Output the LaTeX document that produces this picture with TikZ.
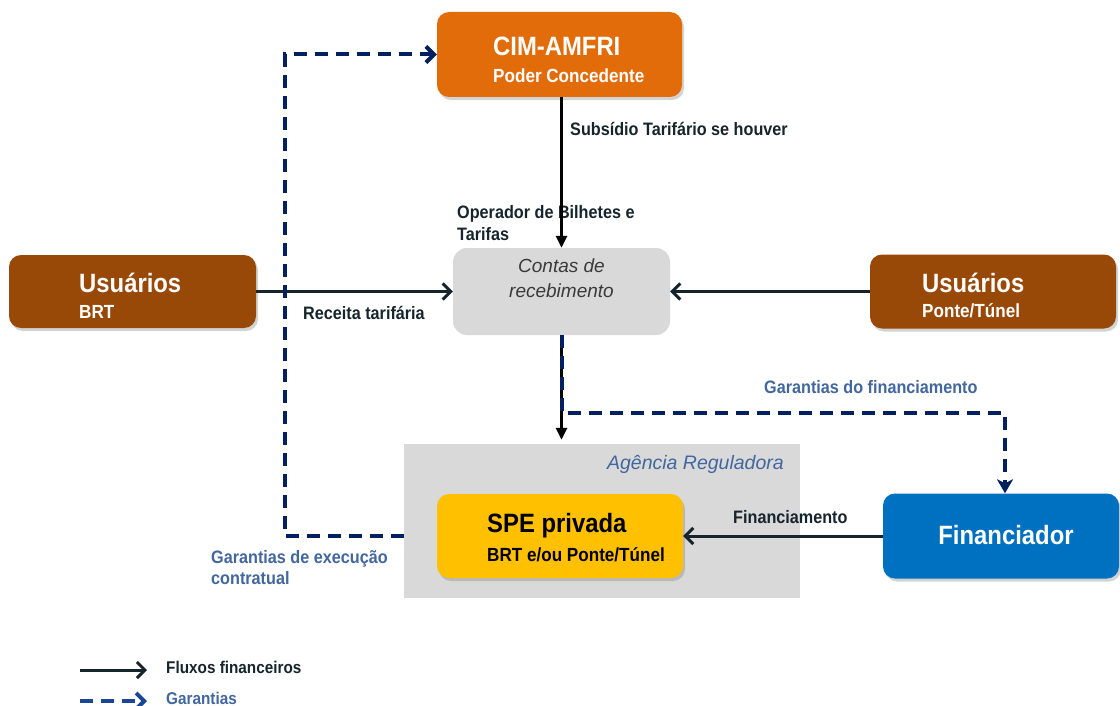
\documentclass[tikz,border=0pt]{standalone}
\usepackage{fontspec}
\setmainfont{Liberation Sans}[FakeStretch=0.9]
\newfontfamily\italica{Liberation Sans}
\usetikzlibrary{arrows.meta,shadows}

\definecolor{laranja}{RGB}{227,108,10}
\definecolor{marrom}{RGB}{152,72,7}
\definecolor{cinza}{RGB}{217,217,217}
\definecolor{ouro}{RGB}{255,192,0}
\definecolor{azul}{RGB}{0,112,192}
\definecolor{marinho}{RGB}{0,32,96}
\definecolor{legazul}{RGB}{25,70,150}
\definecolor{azulclaro}{RGB}{66,102,158}
\definecolor{escuro}{RGB}{22,36,44}
\definecolor{texto}{RGB}{58,58,58}

\tikzset{
  caixa/.style={rounded corners=12pt, inner sep=0pt, drop shadow={opacity=0.35,shadow xshift=2pt,shadow yshift=-3pt}},
  titulo/.style={inner sep=0pt, text=white, font=\bfseries\fontsize{26.5}{30}\selectfont},
  subtitulo/.style={inner sep=0pt, text=white, font=\bfseries\fontsize{19}{22}\selectfont},
  rotulo/.style={inner sep=0pt, text=escuro, align=left, font=\bfseries\fontsize{18}{22}\selectfont},
  rotuloazul/.style={rotulo, text=azulclaro},
  fluxo/.style={draw=escuro, line width=3pt, -{Straight Barb[length=8pt,width=16pt]}},
  fluxov/.style={draw=black, line width=3pt, -{Triangle[length=12pt,width=11pt]}},
  garantia/.style={draw=marinho, line width=4pt, dash pattern=on 13pt off 8pt, -{Straight Barb[length=8pt,width=16pt]}}
}

\begin{document}
\begin{tikzpicture}[x=1pt,y=-1pt]
\useasboundingbox (0,0) rectangle (1120,706);

\node[fill=cinza, inner sep=0pt, minimum width=396pt, minimum height=154pt] (agencia) at (602,521) {};
\node[caixa, fill=laranja, minimum width=245pt, minimum height=85pt] (cim) at (559.5,54.5) {};
\node[caixa, fill=marrom, minimum width=247pt, minimum height=73pt] (brt) at (132.5,291.5) {};
\node[caixa, fill=marrom, minimum width=246pt, minimum height=74pt] (ponte) at (993,291.5) {};
\node[fill=cinza, rounded corners=14pt, inner sep=0pt, minimum width=217pt, minimum height=87pt] (contas) at (561.5,291.5) {};
\node[caixa, fill=ouro, minimum width=246pt, minimum height=84pt] (spe) at (560,536) {};
\node[caixa, fill=azul, minimum width=236pt, minimum height=85pt] (fin) at (1001,536) {};

\node[titulo, anchor=base west] (cimA) at (493,56) {CIM-AMFRI};
\node[subtitulo, anchor=base west] (cimB) at (493,83) {Poder Concedente};
\node[titulo, anchor=base west] (brtA) at (79,292) {Usuários};
\node[subtitulo, anchor=base west] (brtB) at (79,318) {BRT};
\node[titulo, anchor=base west] (ponteA) at (922,292) {Usuários};
\node[subtitulo, anchor=base west] (ponteB) at (922,317) {Ponte/Túnel};
\node[titulo, text=black, anchor=base west] (speA) at (487,532) {SPE privada};
\node[subtitulo, text=black, anchor=base west] (speB) at (487,561) {BRT e/ou Ponte/Túnel};
\node[titulo, anchor=base] (finA) at (1006,544) {Financiador};
\node[inner sep=0pt, anchor=north, align=center, text=texto, font=\italica\itshape\fontsize{19}{25}\selectfont] (contasT) at (561.5,259) {Contas de\\recebimento};
\node[inner sep=0pt, anchor=base east, text=azulclaro, font=\italica\itshape\fontsize{19.5}{24}\selectfont] (agenciaT) at (784,469) {Agência Reguladora};

\node[rotulo, anchor=base west] (subsidio) at (570,136) {Subsídio Tarifário se houver};
\node[rotulo, anchor=north west] (operador) at (457,205) {Operador de Bilhetes e\\Tarifas};
\node[rotulo, anchor=base west] (receita) at (303,319) {Receita tarifária};
\node[rotulo, anchor=base west] (financiamento) at (733,523) {Financiamento};
\node[rotuloazul, anchor=base west] (garFin) at (764,393) {Garantias do financiamento};
\node[rotuloazul, anchor=north west, font=\bfseries\fontsize{18}{21}\selectfont] (garExec) at (211,550) {Garantias de execução\\contratual};

\coordinate (gE) at (285,536);
\coordinate (gD) at (1005,413);

\draw[fluxo] (brt) -- (contas);
\draw[fluxo] (ponte) -- (contas);
\draw[fluxo] (fin) -- (spe);
\draw[fluxov] (contas.north |- cim.south) -- (contas.north);
\draw[fluxov, shorten >=4pt] (contas.south) -- (contas.south |- agencia.north);

\draw[garantia] (agencia.west |- spe) -- (gE) |- (cim);
\draw[garantia, -{Stealth[length=14pt,width=16pt,inset=4pt]}] (contas.south) |- (gD) -- (gD |- fin.north);

% legenda
\coordinate (lf1) at (80,670);
\coordinate (lf2) at (147,670);
\coordinate (lg1) at (80,701);
\coordinate (lg2) at (147,701);
\draw[fluxo] (lf1) -- (lf2);
\draw[garantia, draw=legazul] (lg1) -- (lg2);
\node[rotulo, anchor=base west, font=\bfseries\fontsize{17}{20}\selectfont] (legFluxo) at (166,673) {Fluxos financeiros};
\node[rotuloazul, anchor=base west, font=\bfseries\fontsize{17}{20}\selectfont] (legGar) at (166,704) {Garantias};

\end{tikzpicture}
\end{document}
